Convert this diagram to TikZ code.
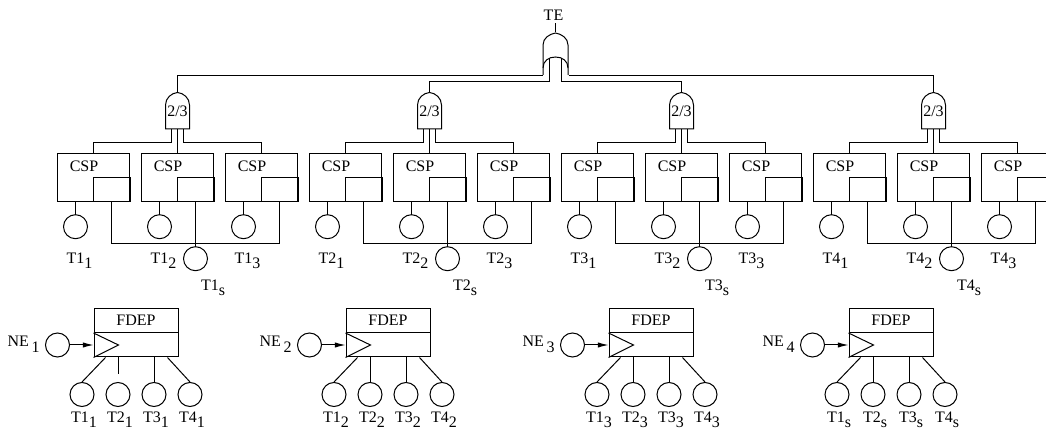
\documentclass[tikz,border=0pt]{standalone}
\usepackage{fontspec}
\setmainfont{Liberation Serif}
\usetikzlibrary{arrows.meta,calc}
\newcommand{\lowsub}[1]{\raisebox{-0.35em}{#1}}

\begin{document}
\begin{tikzpicture}[
  x=0.75pt,y=-0.75pt,
  >={Latex[length=8pt,width=4pt]},
  font=\fontsize{12}{14.4}\selectfont,
  line width=0.75pt,
  event/.style={circle,draw,minimum size=18pt,inner sep=0pt},
  cspbox/.style={rectangle,draw,minimum width=54pt,minimum height=36pt,inner sep=0pt},
  fdepbox/.style={rectangle,draw,minimum width=63pt,minimum height=36pt,inner sep=0pt},
  gatelab/.style={minimum width=18pt,minimum height=27pt,inner sep=0pt},
  orgate/.style={minimum width=18.75pt,minimum height=31.5pt,inner sep=0pt},
  lab/.style={inner sep=0pt}
]
\useasboundingbox (0,0) rectangle (1046,434);
\clip (0,0) rectangle (1046,434);
% top event and OR gate
\node[orgate] (OR) at (555.5,54) {};
\node[lab,inner sep=1pt,anchor=base] (TE) at (553.5,20.7) {TE};
\begin{scope}[shift={(OR.center)}]
  \draw (-12.5,21) -- (-12.5,-9) .. controls (-12.5,-16) and (-6,-20) .. (0,-21)
    .. controls (6,-20) and (12.5,-16) .. (12.5,-9) -- (12.5,21);
  \draw (-12.5,14) .. controls (-12.5,7) and (-7,3) .. (0,3)
    .. controls (7,3) and (12.5,7) .. (12.5,14);
  \coordinate (ORin1) at (-6,4.5);
  \coordinate (ORin2) at (6,4.5);
\end{scope}
% voting gates with their CSP spares
\foreach \g in {1,...,4}{
  \pgfmathsetmacro{\gx}{177.5+252*(\g-1)}
  \node[gatelab] (G\g) at (\gx,111) {2/3};
  \begin{scope}[shift={(G\g.center)}]
    \draw (-12,18) -- (-12,-6) .. controls (-12,-13) and (-6,-18) .. (0,-18.5)
      .. controls (6,-18) and (12,-13) .. (12,-6) -- (12,18) -- cycle;
  \end{scope}
  \foreach \k in {1,2,3}{
    \pgfmathsetmacro{\bx}{93.5+84*(3*\g+\k-4)}
    \node[cspbox] (C\g-\k) at (\bx,177.2) {};
    \node[lab] at ($(C\g-\k)+(-9.5,-11)$) {CSP};
    \draw (C\g-\k.center) rectangle (C\g-\k.south east);
    \node[event] (A\g-\k) at ($(C\g-\k.south)+(-18,25)$) {};
    \draw (A\g-\k.north |- C\g-\k.south) -- (A\g-\k);
    \node[lab,anchor=base] at ($(A\g-\k.south)+(4,24)$) {T\g\lowsub{\k}};
  }
  % gate inputs
  \draw ($(G\g.south)+(-6,0)$) -- ++(0,12.7) -| (C\g-1.north);
  \draw (G\g.south) -- (C\g-2.north);
  \draw ($(G\g.south)+(6,0)$) -- ++(0,12.7) -| (C\g-3.north);
  % shared spare
  \node[event] (S\g) at ($(C\g-2.south)+(18,57)$) {};
  \coordinate (J\g) at ($(C\g-2.south)+(18,41.7)$);
  \draw ($(C\g-1.south)+(18,0)$) |- (J\g) -| ($(C\g-3.south)+(18,0)$);
  \draw ($(C\g-2.south)+(18,0)$) -- (S\g);
  \node[lab,anchor=base west] at ($(S\g.south)+(5,19)$) {T\g\lowsub{s}};
}
% top level connections
\draw (OR.north) -- (OR.north |- TE.south);
\draw (OR.south west) -| (G1.north);
\draw (OR.south east) -| (G4.north);
\draw (ORin1) -- ++(0,23.5) -| (G2.north);
\draw (ORin2) -- ++(0,23.5) -| (G3.north);
% functional dependency gates
\foreach \g/\fx/\sx in {1/136/1,2/388/2,3/651/3,4/891/s}{
  \node[fdepbox] (F\g) at (\fx,333) {};
  \draw (F\g.west) -- (F\g.east);
  \node[lab] at ($(F\g.north)!0.5!(F\g.center)$) {FDEP};
  \draw (F\g.west) -- ($(F\g.west)+(25,12)$) -- (F\g.south west);
  \node[event] (N\g) at ($(F\g.west)+(-36,12)$) {};
  \node[lab,anchor=base east] at ($(N\g.west)+(-5,2)$) {NE\,\lowsub{\g}};
  \draw[->] (N\g) -- (N\g -| F\g.west);
  \foreach \k/\dx in {1/-54,2/-18,3/18,4/54}{
    \node[event] (B\g-\k) at ($(F\g.south)+(\dx,37)$) {};
    \node[lab,anchor=base] at ($(B\g-\k.south)+(2,15)$) {T\k\lowsub{\sx}};
  }
  \pgfmathsetmacro{\gap}{\g==1 ? 6 : 0}
  \draw ($(F\g.south west)+(12,0)$) -- (B\g-1.north);
  \draw[shorten >=\gap pt] (B\g-2.north |- F\g.south) -- (B\g-2.north);
  \draw (B\g-3.north |- F\g.south) -- (B\g-3.north);
  \draw ($(F\g.south east)+(-11,0)$) -- (B\g-4.north);
}
\end{tikzpicture}
\end{document}
